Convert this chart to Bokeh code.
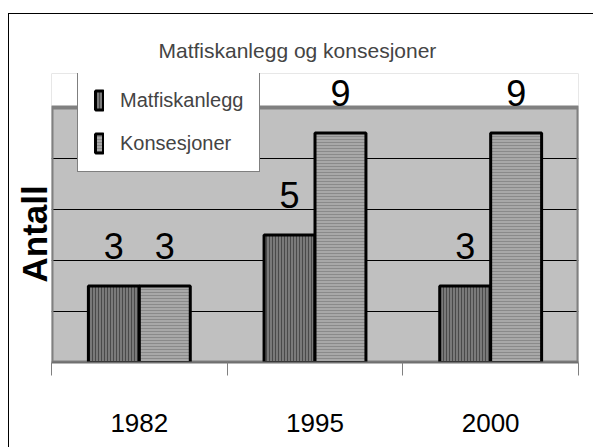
import numpy as np
from bokeh.plotting import figure
from bokeh.models import ColumnDataSource, Range1d, FixedTicker, LabelSet, BoxAnnotation, Title
from bokeh.core.properties import value
from bokeh.transform import dodge
from bokeh.embed import file_html
from bokeh.resources import INLINE

years = ["1982", "1995", "2000"]
matfiskanlegg = [3, 5, 3]
konsesjoner = [3, 9, 9]
grid_values = [2, 4, 6, 8]
axis_max = 10
title_text = "Matfiskanlegg og konsesjoner"
y_label = "Antall"

FONT = "Liberation Sans"

xc = np.arange(len(years)) + 0.5
src = ColumnDataSource(dict(
    x=xc, m=matfiskanlegg, k=konsesjoner,
    mt=[str(v) for v in matfiskanlegg], kt=[str(v) for v in konsesjoner],
))

p = figure(width=585, height=434, output_backend="svg", toolbar_location=None,
           x_range=Range1d(0, len(years)), y_range=Range1d(0, axis_max * 1.133),
           min_border_left=42, min_border_right=16, min_border_top=59, min_border_bottom=86)
p.styles = {"margin-left": "8px", "margin-top": "13px",
            "border-top": "1px solid black", "border-left": "1px solid black"}

p.background_fill_color = "#c0c0c0"
p.border_fill_color = "white"
p.outline_line_color = None

# white strip above the plot area (room for the legend)
p.add_layout(BoxAnnotation(bottom=axis_max, fill_color="white", fill_alpha=1,
                           line_color=None, level="underlay"))
# plot-area border
p.quad(left=[0], right=[len(years)], bottom=[0], top=[axis_max],
       fill_color=None, line_color="#808080", line_width=4)

bw = 0.29
p.vbar(x=dodge("x", -bw / 2, range=p.x_range), top="m", width=bw, source=src,
       fill_color="#7a7a7a", hatch_pattern="vertical_line", hatch_color="#4a4a4a",
       hatch_scale=3, hatch_weight=1, line_color="black", line_width=3,
       legend_label="Matfiskanlegg")
p.vbar(x=dodge("x", bw / 2, range=p.x_range), top="k", width=bw, source=src,
       fill_color="#a8a8a8", hatch_pattern="horizontal_line", hatch_color="#8a8a8a",
       hatch_scale=3, hatch_weight=1, line_color="black", line_width=3,
       legend_label="Konsesjoner")

for col, txt, off in (("m", "mt", -bw / 2), ("k", "kt", bw / 2)):
    p.add_layout(LabelSet(x=dodge("x", off, range=p.x_range), y=col, text=txt, source=src,
                          y_offset=27, text_align="center", text_baseline="alphabetic",
                          text_font=value(FONT), text_font_size=value("36px"),
                          text_color="black"))

# title
p.title.text = title_text
p.title.text_font = FONT
p.title.text_font_size = "21px"
p.title.text_font_style = "normal"
p.title.align = "left"
p.title.offset = 107
p.title.standoff = 24

# y label as a side title
p.add_layout(Title(text=y_label, align="left", offset=80, standoff=-4,
                   text_font=FONT, text_font_size="35px", text_font_style="bold",
                   text_color="black"), "left")

# grid
p.xgrid.visible = False
p.ygrid.ticker = FixedTicker(ticks=grid_values)
p.ygrid.grid_line_color = "black"
p.ygrid.grid_line_width = 1

# x axis
xa = p.xaxis[0]
xa.ticker = FixedTicker(ticks=list(xc), minor_ticks=list(range(len(years) + 1)))
xa.major_label_overrides = {float(x): y for x, y in zip(xc, years)}
xa.major_tick_line_color = None
xa.major_tick_out = 0
xa.major_tick_in = 0
xa.minor_tick_line_color = "#808080"
xa.minor_tick_out = 13
xa.minor_tick_in = 0
xa.axis_line_color = "#707070"
xa.axis_line_width = 2
xa.major_label_text_font = FONT
xa.major_label_text_font_size = "26px"
xa.major_label_text_color = "black"
xa.major_label_standoff = 38

p.yaxis.visible = False

# legend
lg = p.legend[0]
lg.location = (26, 190)
lg.padding = 16
lg.spacing = 19
lg.margin = 0
lg.glyph_width = 10
lg.glyph_height = 24
lg.label_height = 24
lg.label_standoff = 16
lg.label_text_font = FONT
lg.label_text_font_size = "20px"
lg.label_text_baseline = "middle"
lg.border_line_color = "black"
lg.border_line_width = 1
lg.background_fill_color = "white"
lg.background_fill_alpha = 1

open("out.html", "w").write(file_html(p, INLINE))
